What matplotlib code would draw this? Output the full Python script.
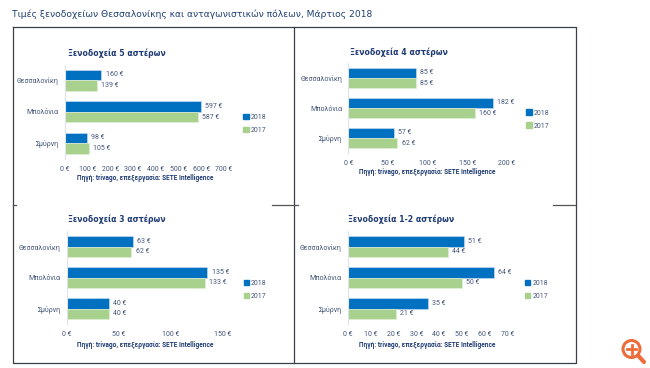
import matplotlib
matplotlib.use("Agg")
import matplotlib.pyplot as plt
from matplotlib.patches import Circle, Patch

plt.rcParams['font.family'] = ['Roboto', 'DejaVu Sans']

W, H = 650, 368
NAVY = '#1f3b73'
TICK = '#44557a'
BLUE = '#0070c0'
GREEN = '#a9d18e'

cities = ['Θεσσαλονίκη', 'Μπολόνια', 'Σμύρνη']
years = ['2018', '2017']

stars5_2018 = [160, 597, 98]
stars5_2017 = [139, 587, 105]
stars4_2018 = [85, 182, 57]
stars4_2017 = [85, 160, 62]
stars3_2018 = [63, 135, 40]
stars3_2017 = [62, 133, 40]
stars12_2018 = [51, 64, 35]
stars12_2017 = [44, 50, 21]

ticks5 = [0, 100, 200, 300, 400, 500, 600, 700]
ticks4 = [0, 50, 100, 150, 200]
ticks3 = [0, 50, 100, 150]
ticks12 = [0, 10, 20, 30, 40, 50, 60, 70]

source = 'Πηγή: trivago, επεξεργασία: SETE Intelligence'


def add_panel(box, title, title_xy, v18, v17, ticks, source_xy, legend_xy):
    # box is left, top, right, bottom in pixels of the picture
    l, t, r, b = box
    ax = fig.add_axes([l / W, 1 - b / H, (r - l) / W, (b - t) / H])
    ax.patch.set_alpha(0)
    pos = [0, 1, 2]
    bars18 = ax.barh([p - 0.17 for p in pos], v18, height=0.34, color=BLUE, edgecolor='#cfe3f3', linewidth=0.4)
    bars17 = ax.barh([p + 0.17 for p in pos], v17, height=0.34, color=GREEN, edgecolor='#e3f0da', linewidth=0.4)
    for bars in (bars18, bars17):
        ax.bar_label(bars, labels=[f'{b_.get_width():.0f} €' for b_ in bars], padding=3, fontsize=5, color=TICK)
    ax.set_ylim(2.5, -0.5)
    ax.set_xlim(ticks[0], ticks[-1])
    ax.set_yticks(pos, cities)
    ax.set_xticks(ticks, [f'{v} €' for v in ticks])
    ax.tick_params(length=0, labelsize=5, labelcolor=TICK)
    ax.tick_params(axis='x', pad=5)
    ax.tick_params(axis='y', pad=4.5)
    for s in ('top', 'right', 'bottom'):
        ax.spines[s].set_visible(False)
    ax.spines['left'].set_color('#dfe3ea')
    ax.spines['left'].set_linewidth(0.8)

    over.text(title_xy[0], title_xy[1], title, family=['DejaVu Sans'], fontsize=5.6, fontweight='bold',
              color=NAVY, ha='left', va='center')
    over.text(source_xy[0], source_xy[1], source, fontsize=4.7, fontweight='bold', color=NAVY,
              ha='center', va='center')
    handles = [Patch(color=BLUE, label=years[0]), Patch(color=GREEN, label=years[1])]
    ax.legend(handles=handles, loc='center left', bbox_to_anchor=legend_xy, bbox_transform=over.transData,
              frameon=False, fontsize=5, labelcolor=TICK, handlelength=0.8, handleheight=0.8,
              handletextpad=0.3, labelspacing=0.85, borderpad=0, borderaxespad=0)


fig = plt.figure(figsize=(W / 100, H / 100), dpi=100, facecolor='white')

# overlay in pixel coordinates for the frame, title and zoom icon
over = fig.add_axes([0, 0, 1, 1])
over.set_xlim(0, W)
over.set_ylim(H, 0)
over.axis('off')

FRAME = '#3a3f4a'
over.plot([12.5, 575.5, 575.5, 12.5, 12.5], [26.5, 26.5, 363, 363, 26.5], color=FRAME, lw=0.9)
over.plot([293.5, 293.5], [26.5, 363], color=FRAME, lw=0.9)
for x0, x1 in [(12.5, 16), (272, 297.5), (553, 575.5)]:
    over.plot([x0, x1], [205, 205], color='#555555', lw=0.9)

over.text(12, 14, 'Τιμές ξενοδοχείων Θεσσαλονίκης και ανταγωνιστικών πόλεων, Μάρτιος 2018',
          family=['DejaVu Sans'], fontsize=6.6, color='#1f3f73', ha='left', va='center')

add_panel((65, 64.5, 224, 159), 'Ξενοδοχεία 5 αστέρων', (68, 53.5), stars5_2018, stars5_2017, ticks5,
          (144.7, 178), (243, 123.7))
add_panel((348.3, 63, 507, 153), 'Ξενοδοχεία 4 αστέρων', (350, 52.7), stars4_2018, stars4_2017, ticks4,
          (427, 171.7), (526, 119.5))
add_panel((67, 231, 223, 324), 'Ξενοδοχεία 3 αστέρων', (68, 219.5), stars3_2018, stars3_2017, ticks3,
          (145, 344.7), (243.5, 289.7))
add_panel((348, 231, 507.3, 324), 'Ξενοδοχεία 1-2 αστέρων', (348, 219.5), stars12_2018, stars12_2017, ticks12,
          (427.5, 344.7), (524.7, 289.7))

# zoom icon
ORANGE = '#ee6c3a'
over.add_patch(Circle((631.5, 349), 8.5, fill=False, ec=ORANGE, lw=2.2))
over.plot([627, 636], [349, 349], color=ORANGE, lw=2)
over.plot([631.5, 631.5], [344.5, 353.5], color=ORANGE, lw=2)
over.plot([638, 644], [355.5, 362], color=ORANGE, lw=3, solid_capstyle='round')

fig.savefig('out.png', dpi=100)
